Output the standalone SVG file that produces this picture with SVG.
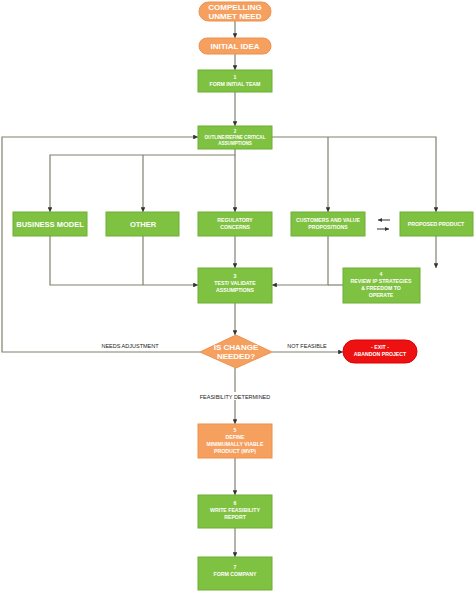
<svg xmlns="http://www.w3.org/2000/svg" width="474" height="592" viewBox="0 0 474 592">
<style>
.g{fill:#7fc241;stroke:#6fae35;stroke-width:1}
.o{fill:#f5a05f;stroke:#ee904c;stroke-width:1}
.r{fill:#ee1111;stroke:#dd0000;stroke-width:1}
.t{font-family:"Liberation Sans",Arial,sans-serif;fill:#fff;text-anchor:middle;font-weight:bold}
.s{font-size:5.2px}
.xs{font-size:4.6px}
.m{font-size:7.5px}
.b{font-size:8px}
.l{font-family:"Liberation Sans",Arial,sans-serif;fill:#222;font-size:5.5px;text-anchor:middle}
.c{fill:none;stroke:#80806f;stroke-width:1.2}
</style>
<defs>
<marker id="a" viewBox="0 0 6 6" refX="6" refY="3" markerWidth="4" markerHeight="4" orient="auto"><path d="M0,0 L6,3 L0,6 z" fill="#333"/></marker>
</defs>
<rect width="474" height="592" fill="#fff"/>
<g id="connectors">
<path class="c" d="M235,21 V38" marker-end="url(#a)"/>
<path class="c" d="M235,54 V70" marker-end="url(#a)"/>
<path class="c" d="M235,92 V126" marker-end="url(#a)"/>
<path class="c" d="M235,149 V155 H50 V212" marker-end="url(#a)"/>
<path class="c" d="M143,155 V212" marker-end="url(#a)"/>
<path class="c" d="M235,155 V212" marker-end="url(#a)"/>
<path class="c" d="M272,137 H436 V212" marker-end="url(#a)"/>
<path class="c" d="M328,137 V212" marker-end="url(#a)"/>
<path class="c" d="M50,236 V285 H198" marker-end="url(#a)"/>
<path class="c" d="M143,236 V285"/>
<path class="c" d="M235,236 V268" marker-end="url(#a)"/>
<path class="c" d="M328,236 V285 H272" marker-end="url(#a)"/>
<path class="c" d="M343,285 H328"/>
<path class="c" d="M436,236 V268" marker-end="url(#a)"/>
<path class="c" d="M235,303 V335" marker-end="url(#a)"/>
<path class="c" d="M200,352 H2 V137 H198" marker-end="url(#a)"/>
<path class="c" d="M272,352 H343" marker-end="url(#a)"/>
<path class="c" d="M235,368 V424" marker-end="url(#a)"/>
<path class="c" d="M235,458 V495" marker-end="url(#a)"/>
<path class="c" d="M235,528 V557" marker-end="url(#a)"/>
<path d="M390,220 H378" stroke="#333" stroke-width="1" marker-end="url(#a)"/>
<path d="M377,229 H389" stroke="#333" stroke-width="1" marker-end="url(#a)"/>
<rect x="194" y="392" width="82" height="8" fill="#fff"/>
<text class="l" x="130" y="348">NEEDS ADJUSTMENT</text>
<text class="l" x="307" y="348">NOT FEASIBLE</text>
<text class="l" x="235" y="398.5">FEASIBILITY DETERMINED</text>
</g>
<g id="n_need"><rect class="o" x="199" y="2" width="72" height="19" rx="9.5"/><text class="t b" x="235" y="10">COMPELLING</text><text class="t b" x="235" y="18.5">UNMET NEED</text></g>
<g id="n_idea"><rect class="o" x="199" y="38" width="72" height="16" rx="8"/><text class="t b" x="235" y="48.8">INITIAL IDEA</text></g>
<g id="n1"><rect class="g" x="198" y="70" width="74" height="22"/><text class="t s" x="235" y="79">1</text><text class="t s" x="235" y="86">FORM INITIAL TEAM</text></g>
<g id="n2"><rect class="g" x="198" y="126" width="74" height="23"/><text class="t xs" x="235" y="133">2</text><text class="t xs" x="235" y="139">OUTLINE/REFINE CRITICAL</text><text class="t xs" x="235" y="145">ASSUMPTIONS</text></g>
<g id="n_bm"><rect class="g" x="13" y="212" width="74" height="24"/><text class="t m" x="50" y="226.5">BUSINESS MODEL</text></g>
<g id="n_other"><rect class="g" x="106" y="212" width="73" height="24"/><text class="t m" x="143" y="226.5">OTHER</text></g>
<g id="n_reg"><rect class="g" x="198" y="212" width="74" height="24"/><text class="t s" x="235" y="222">REGULATORY</text><text class="t s" x="235" y="229">CONCERNS</text></g>
<g id="n_cust"><rect class="g" x="291" y="212" width="74" height="24"/><text class="t s" x="328" y="222">CUSTOMERS AND VALUE</text><text class="t s" x="328" y="229">PROPOSITIONS</text></g>
<g id="n_prod"><rect class="g" x="400" y="212" width="73" height="24"/><text class="t s" x="436" y="226">PROPOSED PRODUCT</text></g>
<g id="n3"><rect class="g" x="198" y="268" width="74" height="35"/><text class="t s" x="235" y="278">3</text><text class="t s" x="235" y="285">TEST/ VALIDATE</text><text class="t s" x="235" y="292">ASSUMPTIONS</text></g>
<g id="n4"><rect class="g" x="343" y="268" width="77" height="35"/><text class="t s" x="381" y="276">4</text><text class="t s" x="381" y="283">REVIEW IP STRATEGIES</text><text class="t s" x="381" y="290">&amp; FREEDOM TO</text><text class="t s" x="381" y="297">OPERATE</text></g>
<g id="n_dec"><path class="o" d="M236,335 L272,352 L236,368 L200,352 z"/><text class="t b" x="236" y="350">IS CHANGE</text><text class="t b" x="236" y="358.5">NEEDED?</text></g>
<g id="n_exit"><rect class="r" x="343" y="340" width="74" height="23" rx="11.5"/><text class="t s" x="380" y="349">- EXIT -</text><text class="t s" x="380" y="356">ABANDON PROJECT</text></g>
<g id="n5"><rect class="o" x="198" y="424" width="74" height="34"/><text class="t s" x="235" y="432">5</text><text class="t s" x="235" y="439">DEFINE</text><text class="t s" x="235" y="446">MINIMUMALLY VIABLE</text><text class="t s" x="235" y="453">PRODUCT (MVP)</text></g>
<g id="n6"><rect class="g" x="198" y="495" width="74" height="33"/><text class="t s" x="235" y="505">6</text><text class="t s" x="235" y="512">WRITE FEASIBILITY</text><text class="t s" x="235" y="519">REPORT</text></g>
<g id="n7"><rect class="g" x="198" y="557" width="74" height="33"/><text class="t s" x="235" y="569">7</text><text class="t s" x="235" y="576">FORM COMPANY</text></g>
</svg>
